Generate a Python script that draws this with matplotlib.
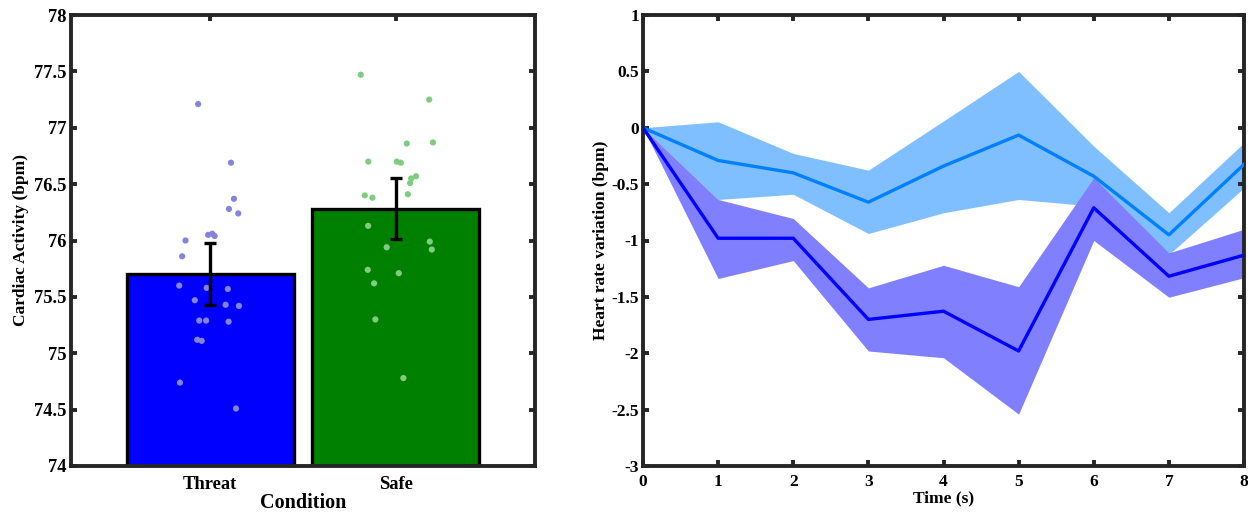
import numpy as np
import matplotlib
matplotlib.use("Agg")
import matplotlib.pyplot as plt

# ---------------- data ----------------
conditions = ["Threat", "Safe"]
bar_means = [75.70, 76.28]
bar_sems = [0.275, 0.27]

threat_points = [77.21, 76.69, 76.37, 76.28, 76.24, 76.05, 76.06, 76.04, 76.00, 75.86,
                 75.60, 75.58, 75.57, 75.47, 75.43, 75.42, 75.29, 75.29, 75.28, 75.12,
                 75.11, 74.74, 74.51]
threat_jitter = [-0.065, 0.112, 0.128, 0.101, 0.151, -0.011, 0.011, 0.024, -0.133, -0.151,
                 -0.167, -0.019, 0.095, -0.083, 0.083, 0.155, -0.059, -0.022, 0.099, -0.070,
                 -0.046, -0.163, 0.139]
safe_points = [77.47, 77.25, 76.86, 76.87, 76.70, 76.70, 76.69, 76.55, 76.57, 76.51,
               76.40, 76.38, 76.41, 76.13, 75.94, 75.99, 75.92, 75.74, 75.71, 75.62,
               75.30, 74.78]
safe_jitter = [-0.189, 0.180, 0.059, 0.200, -0.148, 0.005, 0.027, 0.083, 0.109, 0.077,
               -0.167, -0.126, 0.065, -0.149, -0.049, 0.183, 0.194, -0.151, 0.016, -0.117,
               -0.110, 0.041]

time_s = [0, 1, 2, 3, 4, 5, 6, 7, 8]
safe_mean = [0.0, -0.29, -0.40, -0.66, -0.34, -0.065, -0.43, -0.95, -0.325]
safe_upper = [0.0, 0.053, -0.228, -0.376, 0.06, 0.50, -0.163, -0.754, -0.133]
safe_lower = [0.0, -0.636, -0.59, -0.938, -0.754, -0.636, -0.695, -1.124, -0.533]
threat_mean = [0.0, -0.98, -0.98, -1.70, -1.627, -1.98, -0.71, -1.317, -1.13]
threat_upper = [0.0, -0.636, -0.805, -1.42, -1.22, -1.41, -0.444, -1.11, -0.90]
threat_lower = [0.0, -1.337, -1.178, -1.98, -2.04, -2.54, -1.0, -1.503, -1.33]

left_yticks = [74, 74.5, 75, 75.5, 76, 76.5, 77, 77.5, 78]
right_yticks = [1, 0.5, 0, -0.5, -1, -1.5, -2, -2.5, -3]

# ---------------- style ----------------
plt.rcParams['font.family'] = ['Liberation Serif', 'DejaVu Serif']
plt.rcParams['font.weight'] = 'bold'
plt.rcParams['axes.unicode_minus'] = False

spine_col = '#262626'
spine_lw = 2.8

fig = plt.figure(figsize=(12.48, 5.13), dpi=100)
ax1 = fig.add_axes([71/1248, 1-466/513, (535-71)/1248, (466-15)/513])
ax2 = fig.add_axes([643/1248, 1-466/513, (1244-643)/1248, (466-15)/513])

def style(ax, fs, xpad):
    for s in ax.spines.values():
        s.set_linewidth(spine_lw)
        s.set_color(spine_col)
    ax.tick_params(direction='in', length=4.5, width=spine_lw, color=spine_col,
                   top=True, right=True, labelsize=fs, pad=3)
    ax.tick_params(axis='x', pad=xpad)
    for lab in ax.get_xticklabels() + ax.get_yticklabels():
        lab.set_fontweight('bold')

# ---------------- left panel ----------------
xpos = np.arange(1, len(conditions) + 1)
ax1.bar(xpos, bar_means, width=0.9, color=['#0000ff', '#008000'],
        edgecolor='black', linewidth=2.4, zorder=2)
ax1.scatter(xpos[0] + np.array(threat_jitter), threat_points, s=20,
            color='#8484dc', edgecolors='none', zorder=3)
ax1.scatter(xpos[1] + np.array(safe_jitter), safe_points, s=20,
            color='#80cc80', edgecolors='none', zorder=3)
ax1.errorbar(xpos, bar_means, yerr=bar_sems, fmt='none', ecolor='black',
             elinewidth=2.4, capsize=4, capthick=2.4, zorder=4)
ax1.set_xlim(0.25, 2.75)
ax1.set_ylim(74, 78)
ax1.set_xticks(xpos)
ax1.set_xticklabels(conditions)
ax1.set_yticks(left_yticks)
ax1.set_yticklabels([f"{v:g}" for v in left_yticks])
style(ax1, 13.3, 7)
ax1.set_xlabel("Condition", fontsize=14.5, fontweight='bold', labelpad=0)
ax1.set_ylabel("Cardiac Activity (bpm)", fontsize=12.5, fontweight='bold', labelpad=4)

# ---------------- right panel ----------------
ax2.fill_between(time_s, safe_lower, safe_upper, color='#80bfff', linewidth=0, zorder=1)
ax2.fill_between(time_s, threat_lower, threat_upper, color='#8080ff', linewidth=0, zorder=2)
ax2.plot(time_s, safe_mean, color='#0080ff', linewidth=2.4, zorder=3)
ax2.plot(time_s, threat_mean, color='#0000ff', linewidth=2.4, zorder=4)
ax2.set_xlim(0, 8)
ax2.set_ylim(-3, 1)
ax2.set_xticks(time_s)
ax2.set_xticklabels([str(t) for t in time_s])
ax2.set_yticks(right_yticks)
ax2.set_yticklabels([f"{v:g}" for v in right_yticks])
style(ax2, 12.5, 6)
ax2.set_xlabel("Time (s)", fontsize=12.5, fontweight='bold', labelpad=0)
ax2.set_ylabel("Heart rate variation (bpm)", fontsize=12.5, fontweight='bold', labelpad=2)

fig.savefig("out.png", dpi=100)
